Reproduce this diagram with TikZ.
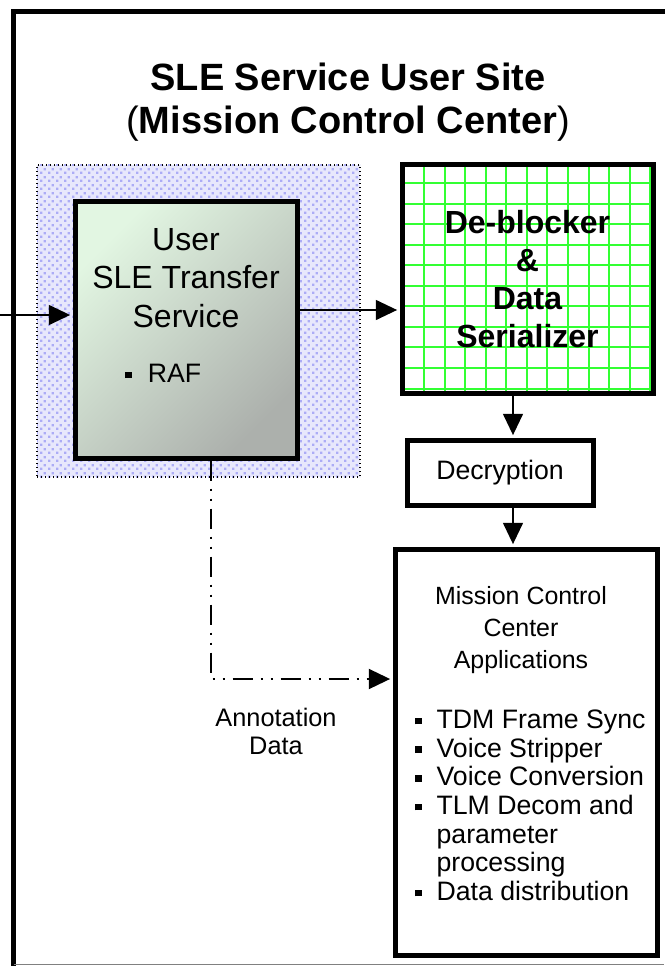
\documentclass[tikz,border=0pt]{standalone}
\usepackage{fontspec}
\setmainfont{Liberation Sans}
\usetikzlibrary{arrows.meta,patterns}

\definecolor{lavfill}{RGB}{232,232,252}
\definecolor{lavdot}{RGB}{172,172,246}
\definecolor{usrtop}{RGB}{226,246,226}
\definecolor{usrbot}{RGB}{172,176,172}
\definecolor{gridgreen}{RGB}{50,255,50}

\pgfdeclarepatternformonly{lavsquares}{\pgfpointorigin}{\pgfpoint{6pt}{6pt}}{\pgfpoint{6pt}{6pt}}{%
  \pgfpathrectangle{\pgfpoint{0pt}{0pt}}{\pgfpoint{2pt}{2pt}}%
  \pgfpathrectangle{\pgfpoint{3pt}{3pt}}{\pgfpoint{2pt}{2pt}}%
  \pgfusepath{fill}}

\newcommand{\sqbul}{\rule[0.15em]{0.25em}{0.25em}}

\tikzset{
  box/.style={draw=black, line width=3.75pt, inner sep=0pt},
  txt/.style={inner sep=0pt},
  flow/.style={black, line width=1.2pt, shorten >=1.8pt, -{Triangle[length=16pt,width=15pt]}},
  annot/.style={black, line width=1.5pt, shorten >=1.8pt, dash pattern=on 15pt off 6pt on 1.5pt off 6pt on 1.5pt off 6pt, -{Triangle[length=16pt,width=15pt]}}
}

\begin{document}
\begin{tikzpicture}[x=0.75pt, y=-0.75pt]
\useasboundingbox (0,0) rectangle (664,966);
\draw[black, line width=3.75pt](13.5,980)--(13.5,11.5)--(680,11.5);
\draw[gray, line width=0.8pt](13.5,964.5)--(664,964.5);

\node[txt, align=center, font=\fontsize{28.5}{32}\selectfont\bfseries] (title) at (348,102)
  {SLE Service User Site\\{\mdseries(}Mission Control Center{\mdseries)}};

\node[draw=black, dotted, line width=1pt, preaction={fill=lavfill}, pattern=lavsquares, pattern color=lavdot,
  minimum width=242.25pt, minimum height=234pt] (zone) at (198.5,321) {};

\node[box, shading=axis, top color=usrtop, bottom color=usrbot, shading angle=45,
  minimum width=166.5pt, minimum height=192pt] (user) at (186,330) {};
\node[txt, align=center, font=\fontsize{24}{29}\selectfont] (usertxt) at (186,278) {User\\SLE Transfer\\Service};
\node[txt, anchor=west, font=\fontsize{20}{24}\selectfont] (raf) at (125,373) {\sqbul\hspace{0.6em}RAF};

\node[box, fill=white, minimum width=188.25pt, minimum height=171pt,
  path picture={\draw[gridgreen, line width=1.5pt] (path picture bounding box.south west) grid[step=15.4pt] (path picture bounding box.north east);},
  align=center, font=\fontsize{24}{28.5}\selectfont\bfseries] (deblock) at (527.5,279) {De-blocker\\\&\\Data\\Serializer};

\node[box, minimum width=139.5pt, minimum height=48.75pt, font=\fontsize{20}{24}\selectfont] (decrypt) at (500,472.5) {Decryption};

\node[box, minimum width=196.5pt, minimum height=304.5pt] (mcc) at (526,752) {};
\node[txt, align=center, font=\fontsize{18.7}{24}\selectfont] (mcctitle) at (521,630) {Mission Control\\Center\\Applications};
\node[txt, anchor=north west, font=\fontsize{20}{21.5}\selectfont] (mcclist) at (415,708) {%
  \begin{tabular}{@{}l@{\hspace{0.55em}}l@{}}
  \sqbul & TDM Frame Sync\\
  \sqbul & Voice Stripper\\
  \sqbul & Voice Conversion\\
  \sqbul & TLM Decom and\\
         & parameter\\
         & processing\\
  \sqbul & Data distribution
  \end{tabular}};

\node[txt, align=center, font=\fontsize{19}{21}\selectfont] (annotxt) at (276,731) {Annotation\\Data};

% connectors
\coordinate (feed) at (0,315);
\draw[flow] (feed) -- (feed -| user.west);
\coordinate (link) at (0,310);
\draw[flow] (link -| user.east) -- (link -| deblock.west);
\coordinate (drop) at (513,0);
\draw[flow] (drop |- deblock.south) -- (drop |- decrypt.north);
\draw[flow] (drop |- decrypt.south) -- (drop |- mcc.north);
\coordinate (tap) at (211,679);
\draw[annot] (tap |- user.south) -- (tap) -- (tap -| mcc.west);
\end{tikzpicture}
\end{document}
